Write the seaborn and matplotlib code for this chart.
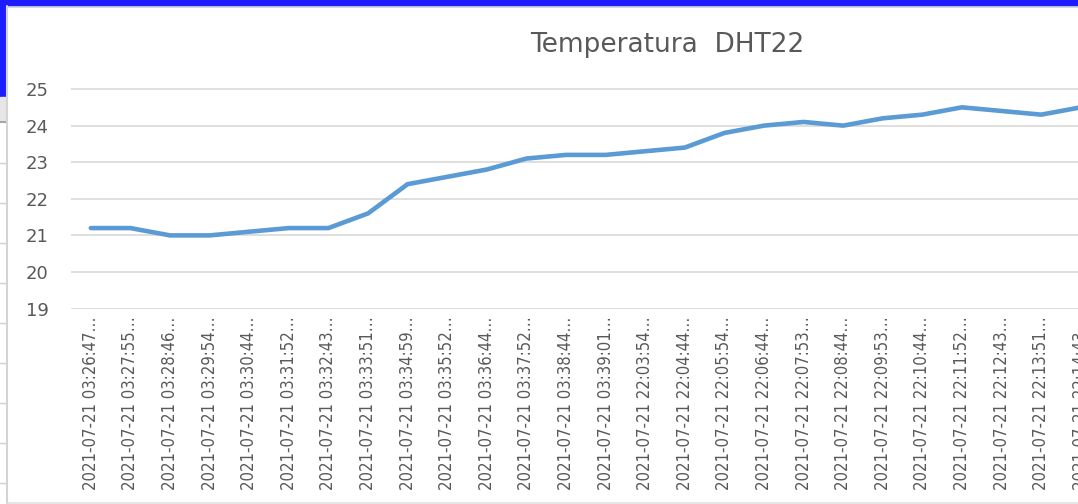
import pandas as pd
import seaborn as sns
import matplotlib.pyplot as plt
from matplotlib.patches import Rectangle
from matplotlib.lines import Line2D

fecha = "2021-07-21"
horas = ["03:26:47", "03:27:55", "03:28:46", "03:29:54", "03:30:44", "03:31:52",
         "03:32:43", "03:33:51", "03:34:59", "03:35:52", "03:36:44", "03:37:52",
         "03:38:44", "03:39:01", "22:03:54", "22:04:44", "22:05:54", "22:06:44",
         "22:07:53", "22:08:44", "22:09:53", "22:10:44", "22:11:52", "22:12:43",
         "22:13:51", "22:14:43"]
temperaturas = [21.2, 21.2, 21.0, 21.0, 21.1, 21.2, 21.2, 21.6, 22.4, 22.6,
                22.8, 23.1, 23.2, 23.2, 23.3, 23.4, 23.8, 24.0, 24.1, 24.0,
                24.2, 24.3, 24.5, 24.4, 24.3, 24.5]
y_ticks = [19, 20, 21, 22, 23, 24, 25]

# excel corta las etiquetas largas con "…"
etiquetas = [f"{fecha} {h}…" for h in horas]
df = pd.DataFrame({"hora": etiquetas, "temp": temperaturas})

sns.set_style("white")
plt.rcParams["font.family"] = ["DejaVu Sans"]

W, H = 1078, 504
fig = plt.figure(figsize=(W / 100, H / 100), dpi=100)

# el grafico sigue mas alla del borde derecho (captura recortada)
ax = fig.add_axes([71 / W, (H - 309.3) / H, 26 * 39.6 / W, 221 / H])

sns.lineplot(data=df, x="hora", y="temp", sort=False, color="#5b9bd5",
             linewidth=3.3, ax=ax, solid_capstyle="round", solid_joinstyle="round")

ax.set_xlim(-0.5, len(temperaturas) - 0.5)
ax.set_ylim(18.98, 25.02)
ax.set_yticks(y_ticks)
ax.grid(axis="y", color="#d9d9d9", linewidth=1.2)
ax.set_axisbelow(True)
sns.despine(ax=ax, left=True, bottom=True)
ax.tick_params(axis="both", length=0, colors="#595959")
ax.tick_params(axis="y", labelsize=13, pad=16)
ax.tick_params(axis="x", labelsize=12, pad=5, labelrotation=90)
for lbl in ax.get_xticklabels():
    lbl.set_fontstretch("condensed")
ax.set_xlabel("")
ax.set_ylabel("")

fig.text(667 / W, 1 - 45 / H, "Temperatura  DHT22", ha="center", va="center",
         fontsize=19, color="#595959")


# restos de la ventana de excel alrededor del grafico
def px(x, y):
    return x / W, 1 - y / H


azul = "#1c1cff"
fig.add_artist(Rectangle(px(0, 6), 1, 6 / H, color=azul, transform=fig.transFigure))
fig.add_artist(Rectangle(px(0, 97), 6 / W, 97 / H, color=azul, transform=fig.transFigure))
fig.add_artist(Rectangle(px(0, 120), 6 / W, 23 / H, color="#e6e6e6", transform=fig.transFigure))
fig.add_artist(Line2D([0, 7 / W], [1 - 121.5 / H] * 2, color="#a6a6a6", lw=1.5,
                      transform=fig.transFigure))
for yy in [163, 203, 243, 283, 323, 363, 403, 443, 483]:
    fig.add_artist(Line2D([0, 6 / W], [1 - yy / H] * 2, color="#d0d0d0", lw=1,
                          transform=fig.transFigure))
fig.add_artist(Line2D([7.3 / W] * 2, [0, 1 - 6 / H], color="#d4d4d4", lw=1.5,
                      transform=fig.transFigure))
fig.add_artist(Line2D([7 / W, 1], [1 - 6.8 / H] * 2, color="#d9d9d9", lw=1.2,
                      transform=fig.transFigure))
fig.add_artist(Line2D([7 / W, 1], [1 - 502.5 / H] * 2, color="#e0e0e0", lw=1.2,
                      transform=fig.transFigure))

fig.savefig("out.png", dpi=100)
